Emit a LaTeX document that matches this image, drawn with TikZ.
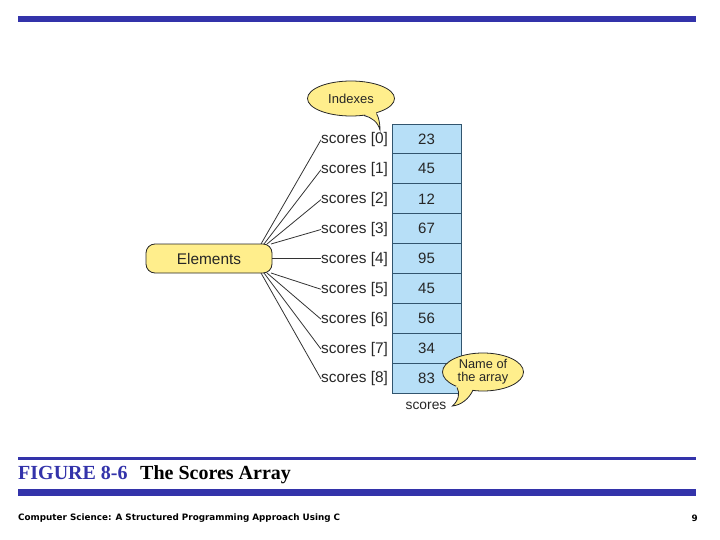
\documentclass[tikz,border=0pt]{standalone}
\usepackage{fontspec}
\setmainfont{Liberation Sans}
\newfontfamily\captionfont{Liberation Serif}
\newfontfamily\footfont{DejaVu Sans}
\usetikzlibrary{shapes.geometric}
\definecolor{barblue}{RGB}{51,51,170}
\definecolor{cellblue}{RGB}{183,223,247}
\definecolor{celledge}{RGB}{50,85,110}
\definecolor{noteyellow}{RGB}{255,238,140}
\tikzset{
  >=latex,
  bar/.style = {fill=barblue,draw=none},
  cell/.style = {draw=celledge,fill=cellblue,line width=0.9pt,minimum width=69pt,
    minimum height=29.9pt,inner sep=0pt,font=\fontsize{15}{15}\selectfont,text=black!85},
  elemlabel/.style = {anchor=west,inner sep=0pt,font=\fontsize{15.4}{15.4}\selectfont,text=black!85},
  spoke/.style = {draw=black!80,line width=0.8pt},
  note/.style = {ellipse,draw=black!85,fill=noteyellow,line width=0.8pt,inner sep=0pt,
    align=center,text=black!85},
  tailfill/.style = {fill=noteyellow,draw=none},
  tailedge/.style = {draw=black!85,line width=0.8pt}
}

\begin{document}
\begin{tikzpicture}[x=1pt,y=-1pt]
  \useasboundingbox (0,0) rectangle (720,540);
  % rules
  \fill[bar] (18,16) rectangle (696,22.5);
  \fill[bar] (18,457) rectangle (696,459.5);
  \fill[bar] (18,489) rectangle (696,496);
  % elements box
  \node[draw=black!85,fill=noteyellow,line width=0.8pt,rounded corners=9pt,minimum width=126pt,
    minimum height=29pt,inner sep=0pt,font=\fontsize{15.4}{15.4}\selectfont,text=black!85]
    (elements) at (209,258.5) {Elements};
  % array
  \foreach \idx/\val in {0/23,1/45,2/12,3/67,4/95,5/45,6/56,7/34,8/83} {
    \pgfmathsetmacro{\rowy}{139+\idx*29.9}
    \node[cell] (cell\idx) at (426.5,\rowy) {\val};
    \node[elemlabel] (name\idx) at (321,\rowy+0.8) {scores [\idx]};
  }
  % spokes
  \draw[spoke] (elements.east) -- (elements.east -| name4.west);
  \foreach \idx/\from in {0/261,1/264,2/267,3/271} {
    \draw[spoke] (\from,244) -- (name\idx.west);
  }
  \foreach \idx/\from in {5/271,6/267,7/264,8/261} {
    \draw[spoke] (\from,273) -- (name\idx.west);
  }
  % indexes callout
  \node[note,minimum width=87pt,minimum height=35pt] (indexes) at (351,98.5) {};
  \coordinate (indexTip) at (380,130);
  \fill[tailfill] (364,114) .. controls (371,117) and (378,122) .. (indexTip)
    .. controls (380,124) and (379,118) .. (376,112) -- cycle;
  \draw[tailedge] (364,115.5) .. controls (371,117) and (378,122) .. (indexTip)
    .. controls (380,124) and (379,118) .. (376.5,113.5);
  \node[inner sep=0pt,font=\fontsize{13}{13}\selectfont,text=black!85] (indexText) at (351,98.5) {Indexes};
  % name callout
  \node[inner sep=0pt,font=\fontsize{13.8}{13.8}\selectfont,text=black!85] (arrayname) at (426,405.5) {scores};
  \node[note,minimum width=81pt,minimum height=38pt] (namenote) at (483,372) {};
  \coordinate (nameTip) at (452.5,406);
  \fill[tailfill] (456,386) .. controls (460,393) and (459,400) .. (nameTip)
    .. controls (461,405) and (469,399) .. (474,388) -- cycle;
  \draw[tailedge] (457,387.5) .. controls (460,393) and (459,400) .. (nameTip)
    .. controls (461,405) and (469,399) .. (473,390);
  \node[inner sep=0pt,align=center,font=\fontsize{12.8}{13.5}\selectfont,text=black!85]
    (nameText) at (483,371.5) {Name of\\the array};
  % caption
  \node[anchor=base west,inner sep=0pt,font=\captionfont\bfseries\fontsize{20}{20}\selectfont,text=barblue]
    (figno) at (18,479) {FIGURE 8-6};
  \node[anchor=base west,inner sep=0pt,font=\captionfont\bfseries\fontsize{20}{20}\selectfont]
    (figtitle) at (140,479) {The Scores Array};
  \node[anchor=west,inner sep=0pt,font=\footfont\bfseries\fontsize{8.8}{9}\selectfont]
    (book) at (18,518.5) {Computer Science: A Structured Programming Approach Using C};
  \node[anchor=east,inner sep=0pt,font=\footfont\bfseries\fontsize{8.8}{9}\selectfont]
    (page) at (698,518.5) {9};
\end{tikzpicture}
\end{document}
